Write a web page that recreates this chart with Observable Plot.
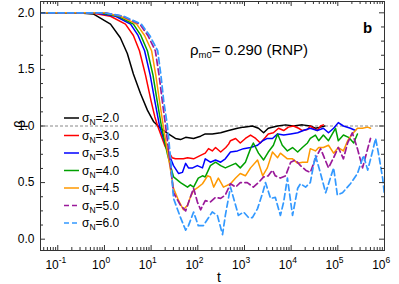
<!DOCTYPE html>
<html><head><meta charset="utf-8">
<script src="https://cdn.jsdelivr.net/npm/d3@7"></script>
<script src="https://cdn.jsdelivr.net/npm/@observablehq/plot@0.6"></script>
<style>body{margin:0;background:#fff} #chart svg{display:block}</style>
</head><body><div id="chart"></div>
<script>
// ---- data (log10 t and beta) ----
const sigmaLabels = ["2.0","3.0","3.5","4.0","4.5","5.0","6.0"];
const seriesColors = ["#000000","#ff0000","#0000ff","#00a000","#ff9900","#9a1a9a","#3399ff"];
const seriesDashed = [false,false,false,false,false,true,true];

const logT_s20 = [-1.4,-0.6,-0.24,0.13,0.34,0.49,0.62,0.77,0.92,1.05,1.2,1.37,1.52,1.63,1.74,1.91,2.06,2.16,2.31,2.49,2.66,2.85,2.98,3.17,3.30,3.41,3.51,3.71,3.88,4.05,4.24,4.41,4.52,4.63,4.72];
const beta_s20 = [2.0,2.0,1.99,1.90,1.78,1.64,1.46,1.29,1.14,1.04,0.98,0.93,0.89,0.88,0.90,0.89,0.91,0.93,0.93,0.94,0.96,0.98,0.99,1.0,0.98,0.94,0.98,1.0,1.01,1.0,1.01,1.0,0.98,0.99,1.0];

const logT_s30 = [-1.4,-0.3,0.13,0.45,0.62,0.75,0.88,1.0,1.08,1.14,1.3,1.45,1.52,1.69,1.78,1.91,2.06,2.16,2.23,2.31,2.38,2.49,2.6,2.66,2.7,2.81,2.91,3.02,3.13,3.24,3.34,3.45,3.51,3.62,3.73,3.84,3.94,4.05,4.16,4.24,4.35,4.41,4.48,4.56,4.63,4.69];
const beta_s30 = [2.0,2.0,1.97,1.90,1.80,1.665,1.45,1.22,1.08,1.0,0.82,0.72,0.71,0.71,0.72,0.71,0.74,0.76,0.80,0.78,0.81,0.77,0.81,0.84,0.87,0.89,0.85,0.89,0.92,0.89,0.85,0.90,0.93,0.94,0.98,0.96,0.99,1.0,0.98,0.96,0.97,1.0,0.98,0.96,1.0,1.01];

const logT_s35 = [-1.4,-0.2,0.24,0.56,0.72,0.86,0.98,1.08,1.18,1.35,1.48,1.59,1.67,1.74,1.8,1.89,1.99,2.1,2.16,2.27,2.38,2.49,2.59,2.7,2.85,2.98,3.13,3.28,3.39,3.49,3.6,3.71,3.84,3.99,4.14,4.26,4.41,4.56,4.69,4.8,4.91,5.01,5.12,5.27,5.38];
const beta_s35 = [2.0,2.0,1.97,1.90,1.80,1.665,1.45,1.22,1.0,0.78,0.65,0.58,0.59,0.67,0.63,0.63,0.65,0.63,0.71,0.68,0.70,0.68,0.71,0.77,0.78,0.80,0.81,0.83,0.87,0.89,0.89,0.93,0.92,0.93,0.94,0.96,0.98,0.96,0.98,0.94,0.98,1.03,1.0,0.98,0.96];

const logT_s40 = [-1.4,-0.1,0.3,0.62,0.78,0.92,1.04,1.13,1.22,1.35,1.48,1.63,1.78,1.84,1.91,2.01,2.1,2.16,2.27,2.38,2.49,2.59,2.7,2.81,2.91,3.02,3.13,3.19,3.3,3.41,3.51,3.62,3.71,3.81,3.92,4.03,4.14,4.24,4.35,4.41,4.52,4.59,4.69,4.8,4.95,5.01,5.12,5.23,5.34,5.42];
const beta_s40 = [2.0,2.0,1.97,1.90,1.80,1.665,1.45,1.22,1.0,0.75,0.55,0.50,0.46,0.48,0.46,0.54,0.56,0.55,0.65,0.68,0.65,0.63,0.65,0.67,0.63,0.68,0.80,0.85,0.76,0.70,0.77,0.83,0.93,0.83,0.78,0.81,0.77,0.81,0.85,0.89,0.92,0.87,0.92,0.87,0.98,0.87,0.92,0.90,0.85,0.93];

const logT_s45 = [-1.4,0,0.34,0.69,0.86,1.01,1.1,1.18,1.26,1.38,1.48,1.59,1.69,1.78,1.84,1.91,2.01,2.1,2.21,2.27,2.34,2.44,2.55,2.7,2.81,2.91,3.02,3.13,3.28,3.39,3.49,3.6,3.71,3.77,3.92,4.03,4.14,4.24,4.35,4.41,4.52,4.59,4.69,4.8,4.91,5.01,5.12,5.21,5.31,5.42,5.53,5.64,5.7];
const beta_s45 = [2.0,2.0,1.97,1.90,1.80,1.665,1.45,1.22,1.0,0.70,0.45,0.34,0.26,0.30,0.37,0.43,0.46,0.49,0.56,0.55,0.46,0.54,0.46,0.49,0.54,0.58,0.56,0.63,0.70,0.56,0.63,0.77,0.72,0.76,0.71,0.71,0.67,0.68,0.68,0.80,0.78,0.81,0.81,0.83,0.76,0.81,0.78,0.87,0.93,0.98,0.98,0.99,0.98];

const logT_s50 = [-1.4,0,0.39,0.76,0.93,1.09,1.17,1.24,1.31,1.4,1.48,1.63,1.74,1.84,1.91,1.99,2.06,2.16,2.27,2.38,2.49,2.59,2.7,2.81,2.91,3.06,3.19,3.3,3.41,3.51,3.6,3.66,3.77,3.88,3.99,4.09,4.2,4.31,4.41,4.52,4.63,4.69,4.8,4.91,5.01,5.12,5.21,5.31,5.42,5.53,5.64,5.7];
const beta_s50 = [2.0,2.0,1.97,1.90,1.80,1.665,1.45,1.22,1.0,0.70,0.41,0.30,0.25,0.37,0.45,0.33,0.26,0.34,0.33,0.37,0.36,0.39,0.49,0.46,0.50,0.50,0.46,0.50,0.55,0.56,0.61,0.56,0.54,0.56,0.68,0.70,0.65,0.61,0.59,0.71,0.80,0.74,0.63,0.72,0.81,0.71,0.85,0.94,0.80,0.63,0.80,0.89];

const logT_s60 = [-1.4,0,0.41,0.79,0.97,1.14,1.21,1.27,1.35,1.42,1.48,1.63,1.74,1.8,1.91,2.01,2.12,2.23,2.31,2.42,2.53,2.59,2.7,2.81,2.87,2.98,3.09,3.17,3.28,3.39,3.45,3.56,3.66,3.77,3.84,3.92,4.03,4.14,4.2,4.31,4.41,4.52,4.63,4.74,4.84,4.91,4.99,5.1,5.27,5.42,5.55,5.64,5.74,5.81,5.87,5.96,6.0];
const beta_s60 = [2.0,2.0,1.97,1.90,1.80,1.665,1.45,1.22,1.0,0.70,0.36,0.19,0.08,0.12,0.24,0.12,0.12,0.19,0.24,0.21,0.04,0.21,0.46,0.30,0.21,0.24,0.19,0.19,0.27,0.41,0.50,0.36,0.37,0.21,0.33,0.54,0.21,0.45,0.49,0.46,0.50,0.74,0.58,0.41,0.54,0.63,0.39,0.41,0.49,0.58,0.74,0.61,0.77,0.89,0.76,0.54,0.39];

const xTickExponents = [-1,0,1,2,3,4,5,6];
const yTickValues = [0,0.5,1.0,1.5,2.0];
const referenceBeta = 1.0;
const annotation = {rho: "ρ", sub: "m0", rest: "= 0.290 (RNP)", panel: "b"};

// ---- build ----
const logTs = [logT_s20,logT_s30,logT_s35,logT_s40,logT_s45,logT_s50,logT_s60];
const betas = [beta_s20,beta_s30,beta_s35,beta_s40,beta_s45,beta_s50,beta_s60];
const series = sigmaLabels.map((lab,k)=>({label:lab, color:seriesColors[k], dashed:seriesDashed[k],
  rows: logTs[k].map((l,i)=>({t:10**l, beta:betas[k][i]}))}));

const W=399,H=284,mL=40,mR=15,mT=1,mB=34;
const innerW=W-mL-mR, innerH=H-mT-mB;
const xDomain=[10**-1.37, 1e6], yDomain=[-0.1,2.1];
const FRAME="#333";
const FONT="'Liberation Sans', Arial, Helvetica, sans-serif";

const majorX = xTickExponents.map(e=>10**e);
const minorX = [];
for (let e=-2;e<6;e++) for (let m=2;m<10;m++){const v=m*10**e; if(v>=xDomain[0]&&v<=xDomain[1]) minorX.push(v);}
const minorY = [];
for (let k=-1;k*0.125<=2.1;k++){const v=k*0.125; if(v>=-0.1 && !yTickValues.some(y=>Math.abs(y-v)<1e-9)) minorY.push(v);}

const lineMarks = series.map(s=>Plot.line(s.rows,{x:"t",y:"beta",stroke:s.color,strokeWidth:s.dashed?1.7:1.5,
  strokeDasharray:s.dashed?"6,3.5":null, clip:true}));

const chart = Plot.plot({
  width:W,height:H,marginLeft:mL,marginRight:mR,marginTop:mT,marginBottom:mB,
  style:{fontFamily:FONT,fontSize:"12px",background:"#fff",color:"#000"},
  x:{type:"log",domain:xDomain,axis:null},
  y:{domain:yDomain,axis:null},
  marks:[
    Plot.ruleY([referenceBeta],{stroke:"#888",strokeDasharray:"3,2",strokeWidth:1}),
    ...lineMarks,
    Plot.frame({stroke:FRAME,strokeWidth:1}),
    Plot.tickX(majorX,{x:d=>d,insetTop:innerH-5,stroke:FRAME}),
    Plot.tickX(majorX,{x:d=>d,insetBottom:innerH-5,stroke:FRAME}),
    Plot.tickX(minorX,{x:d=>d,insetTop:innerH-3,stroke:FRAME}),
    Plot.tickX(minorX,{x:d=>d,insetBottom:innerH-3,stroke:FRAME}),
    Plot.tickY(yTickValues,{y:d=>d,insetRight:innerW-5,stroke:FRAME}),
    Plot.tickY(yTickValues,{y:d=>d,insetLeft:innerW-5,stroke:FRAME}),
    Plot.tickY(minorY,{y:d=>d,insetRight:innerW-3,stroke:FRAME}),
    Plot.tickY(minorY,{y:d=>d,insetLeft:innerW-3,stroke:FRAME}),
    Plot.text(yTickValues,{y:d=>d,text:d=>d.toFixed(1),frameAnchor:"left",textAnchor:"end",lineAnchor:"middle",dx:-6,fontSize:12,fill:"#000"}),
    Plot.text(majorX,{x:d=>d,text:()=>"10",frameAnchor:"bottom",textAnchor:"end",lineAnchor:"bottom",dx:1,dy:18,fontSize:12,fill:"#000"}),
    Plot.text(majorX,{x:d=>d,text:d=>String(Math.round(Math.log10(d))),frameAnchor:"bottom",textAnchor:"start",lineAnchor:"bottom",dx:1,dy:12,fontSize:8.5,fill:"#000"})
  ]
});
document.getElementById("chart").appendChild(chart);

// ---- annotations & legend ----
const svg = d3.select(chart);
const g = svg.append("g").attr("font-family",FONT).attr("fill","#000").attr("text-anchor","start");
g.append("text").attr("x",219).attr("y",282).attr("text-anchor","middle").attr("font-size",14).text("t");
g.append("text").attr("transform","translate(25,124) rotate(-90)").attr("text-anchor","middle").attr("font-size",14).text("β");
g.append("text").attr("x",363).attr("y",33).attr("font-size",15).attr("font-weight","bold").text(annotation.panel);
const rt = g.append("text").attr("x",190).attr("y",55).attr("font-size",15);
rt.append("tspan").text(annotation.rho);
rt.append("tspan").attr("font-size",9.5).attr("dy",3).text(annotation.sub);
rt.append("tspan").attr("dy",-3).text(annotation.rest);
series.forEach((s,i)=>{
  const y = 118 + 17.5*i;
  g.append("line").attr("x1",64).attr("x2",79).attr("y1",y).attr("y2",y)
    .attr("stroke",s.color).attr("stroke-width",s.dashed?1.7:1.5)
    .attr("stroke-dasharray",s.dashed?"5,3":null);
  const tx = g.append("text").attr("x",82).attr("y",y+4).attr("font-size",12);
  tx.append("tspan").text("σ");
  tx.append("tspan").attr("font-size",8.5).attr("dy",3).text("N");
  tx.append("tspan").attr("dy",-3).text("="+s.label);
});
</script>
</body></html>
